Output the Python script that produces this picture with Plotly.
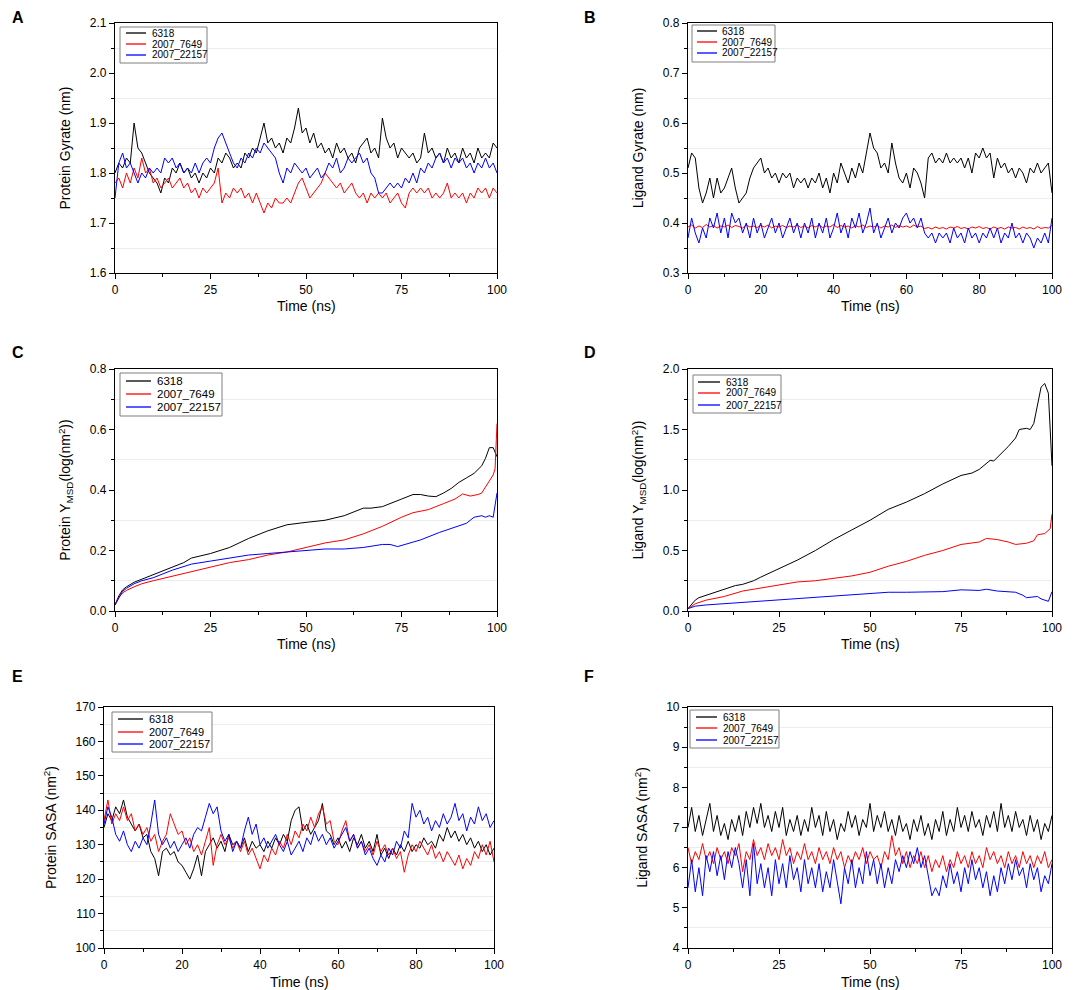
import plotly.graph_objects as go

# time axis for the noisy traces (ns, one value per ns)
t = list(range(101))

names = ["6318", "2007_7649", "2007_22157"]
colors = ["#000000", "#ff0000", "#0000ff"]

# A: protein radius of gyration (nm)
a_6318 = [1.80, 1.82, 1.81, 1.83, 1.82, 1.90, 1.85, 1.84, 1.82, 1.80,
          1.79, 1.78, 1.76, 1.79, 1.78, 1.81, 1.80, 1.82, 1.80, 1.81,
          1.79, 1.80, 1.78, 1.80, 1.79, 1.81, 1.80, 1.83, 1.82, 1.84,
          1.83, 1.81, 1.82, 1.81, 1.84, 1.83, 1.85, 1.84, 1.87, 1.90,
          1.86, 1.87, 1.85, 1.86, 1.84, 1.87, 1.86, 1.89, 1.93, 1.88,
          1.89, 1.86, 1.88, 1.85, 1.86, 1.84, 1.85, 1.83, 1.86, 1.84,
          1.85, 1.83, 1.84, 1.82, 1.85, 1.86, 1.87, 1.84, 1.85, 1.83,
          1.91, 1.87, 1.85, 1.86, 1.83, 1.85, 1.84, 1.83, 1.84, 1.82,
          1.83, 1.88, 1.84, 1.85, 1.83, 1.84, 1.82, 1.85, 1.83, 1.84,
          1.82, 1.85, 1.83, 1.84, 1.82, 1.85, 1.83, 1.84, 1.83, 1.86,
          1.85]
a_7649 = [1.78, 1.79, 1.77, 1.80, 1.78, 1.81, 1.79, 1.83, 1.80, 1.81,
          1.78, 1.79, 1.77, 1.78, 1.79, 1.77, 1.78, 1.79, 1.77, 1.78,
          1.76, 1.77, 1.75, 1.77, 1.76, 1.77, 1.78, 1.81, 1.74, 1.76,
          1.75, 1.77, 1.76, 1.77, 1.75, 1.76, 1.74, 1.76, 1.74, 1.72,
          1.74, 1.73, 1.75, 1.74, 1.74, 1.75, 1.74, 1.76, 1.78, 1.79,
          1.77, 1.75, 1.76, 1.77, 1.78, 1.80, 1.79, 1.78, 1.77, 1.78,
          1.76, 1.77, 1.78, 1.76, 1.75, 1.76, 1.74, 1.76, 1.75, 1.76,
          1.75, 1.76, 1.74, 1.75, 1.76, 1.74, 1.73, 1.76, 1.77, 1.76,
          1.77, 1.76, 1.77, 1.75, 1.76, 1.75, 1.76, 1.78, 1.75, 1.76,
          1.75, 1.76, 1.74, 1.76, 1.75, 1.77, 1.76, 1.77, 1.75, 1.77,
          1.76]
a_22157 = [1.75, 1.82, 1.84, 1.81, 1.82, 1.80, 1.78, 1.80, 1.79, 1.81,
           1.80, 1.81, 1.80, 1.83, 1.82, 1.83, 1.81, 1.82, 1.80, 1.81,
           1.80, 1.82, 1.80, 1.82, 1.83, 1.82, 1.85, 1.87, 1.88, 1.86,
           1.84, 1.82, 1.81, 1.83, 1.82, 1.84, 1.83, 1.85, 1.84, 1.86,
           1.85, 1.84, 1.83, 1.80, 1.78, 1.81, 1.80, 1.82, 1.81, 1.80,
           1.81, 1.79, 1.80, 1.81, 1.79, 1.80, 1.82, 1.81, 1.83, 1.80,
           1.81, 1.83, 1.82, 1.83, 1.84, 1.82, 1.83, 1.80, 1.79, 1.76,
           1.76, 1.77, 1.78, 1.77, 1.78, 1.77, 1.79, 1.78, 1.80, 1.78,
           1.81, 1.80, 1.82, 1.81, 1.83, 1.84, 1.82, 1.83, 1.81, 1.83,
           1.82, 1.83, 1.81, 1.82, 1.80, 1.82, 1.81, 1.83, 1.81, 1.82,
           1.80]

# B: ligand radius of gyration (nm)
b_6318 = [0.51, 0.54, 0.53, 0.47, 0.44, 0.46, 0.49, 0.45, 0.49, 0.46,
          0.47, 0.49, 0.51, 0.47, 0.44, 0.45, 0.46, 0.49, 0.51, 0.52,
          0.53, 0.50, 0.51, 0.49, 0.50, 0.48, 0.50, 0.49, 0.50, 0.47,
          0.49, 0.48, 0.49, 0.47, 0.49, 0.48, 0.50, 0.47, 0.49, 0.46,
          0.50, 0.48, 0.52, 0.50, 0.48, 0.51, 0.49, 0.52, 0.50, 0.54,
          0.58, 0.55, 0.54, 0.51, 0.52, 0.50, 0.56, 0.52, 0.49, 0.48,
          0.50, 0.47, 0.51, 0.50, 0.48, 0.45, 0.53, 0.54, 0.52, 0.53,
          0.52, 0.54, 0.52, 0.53, 0.52, 0.53, 0.51, 0.53, 0.50, 0.54,
          0.53, 0.55, 0.53, 0.54, 0.49, 0.53, 0.51, 0.52, 0.50, 0.51,
          0.49, 0.51, 0.50, 0.48, 0.51, 0.50, 0.52, 0.50, 0.51, 0.52,
          0.46]
b_7649 = [0.392, 0.396, 0.390, 0.394, 0.391, 0.397, 0.392, 0.395, 0.390, 0.394,
          0.392, 0.396, 0.391, 0.395, 0.393, 0.390, 0.396, 0.392, 0.394, 0.391,
          0.395, 0.392, 0.396, 0.390, 0.394, 0.392, 0.395, 0.391, 0.394, 0.392,
          0.396, 0.391, 0.394, 0.390, 0.395, 0.392, 0.396, 0.391, 0.394, 0.392,
          0.397, 0.391, 0.395, 0.392, 0.394, 0.390, 0.395, 0.392, 0.396, 0.391,
          0.394, 0.392, 0.395, 0.390, 0.394, 0.392, 0.396, 0.391, 0.395, 0.392,
          0.394, 0.391, 0.396, 0.392, 0.394, 0.389, 0.391, 0.388, 0.392, 0.389,
          0.391, 0.388, 0.392, 0.390, 0.393, 0.389, 0.391, 0.388, 0.392, 0.390,
          0.393, 0.389, 0.391, 0.388, 0.392, 0.389, 0.391, 0.388, 0.392, 0.390,
          0.391, 0.388, 0.392, 0.389, 0.391, 0.388, 0.393, 0.389, 0.391, 0.390,
          0.395]
b_22157 = [0.37, 0.41, 0.38, 0.36, 0.39, 0.37, 0.41, 0.39, 0.42, 0.38,
           0.41, 0.37, 0.42, 0.40, 0.41, 0.38, 0.40, 0.37, 0.41, 0.38,
           0.40, 0.37, 0.39, 0.41, 0.38, 0.40, 0.37, 0.39, 0.41, 0.38,
           0.40, 0.37, 0.40, 0.38, 0.41, 0.37, 0.40, 0.38, 0.41, 0.37,
           0.39, 0.42, 0.38, 0.40, 0.37, 0.41, 0.39, 0.42, 0.38, 0.40,
           0.43, 0.38, 0.40, 0.37, 0.39, 0.41, 0.38, 0.40, 0.39, 0.41,
           0.42, 0.40, 0.41, 0.39, 0.41, 0.38, 0.37, 0.38, 0.36, 0.38,
           0.37, 0.38, 0.36, 0.39, 0.37, 0.38, 0.36, 0.39, 0.37, 0.38,
           0.36, 0.38, 0.37, 0.39, 0.37, 0.39, 0.36, 0.38, 0.37, 0.40,
           0.37, 0.38, 0.36, 0.38, 0.37, 0.35, 0.37, 0.36, 0.38, 0.36,
           0.41]

# C: protein MSD
c_6318_t = [0, 1, 2, 3, 5, 7, 10, 13, 15, 18, 20, 25, 30, 35, 40, 45, 50, 55, 60, 65,
            67, 70, 75, 78, 80, 82, 84, 86, 88, 90, 92, 94, 96, 97, 98, 99, 100]
c_6318 = [0.02, 0.05, 0.07, 0.08, 0.095, 0.105, 0.12, 0.135, 0.145, 0.16,
          0.175, 0.19, 0.21, 0.24, 0.265, 0.285, 0.293, 0.30, 0.315, 0.34,
          0.34, 0.345, 0.37, 0.385, 0.385, 0.38, 0.378, 0.39, 0.405, 0.425,
          0.44, 0.455, 0.48, 0.505, 0.54, 0.54, 0.51]
c_7649_t = [0, 1, 2, 3, 5, 7, 10, 15, 20, 25, 30, 35, 40, 45, 50, 55, 60, 65, 70, 75,
            78, 82, 86, 89, 91, 93, 95, 96, 97, 98, 99, 99.5, 100]
c_7649 = [0.02, 0.045, 0.06, 0.068, 0.08, 0.09, 0.10, 0.115, 0.13, 0.145,
          0.16, 0.17, 0.185, 0.195, 0.21, 0.225, 0.235, 0.255, 0.28, 0.31,
          0.325, 0.335, 0.355, 0.37, 0.387, 0.38, 0.385, 0.39, 0.41, 0.43,
          0.45, 0.47, 0.62]
c_22157_t = [0, 1, 2, 3, 5, 7, 10, 15, 20, 25, 30, 35, 40, 45, 50, 55, 60, 65, 70, 72,
             74, 76, 80, 85, 90, 92, 94, 96, 97, 98, 99, 100]
c_22157 = [0.02, 0.045, 0.065, 0.075, 0.09, 0.10, 0.11, 0.135, 0.155, 0.165,
           0.175, 0.185, 0.19, 0.195, 0.20, 0.205, 0.205, 0.21, 0.22, 0.22,
           0.213, 0.22, 0.235, 0.26, 0.28, 0.29, 0.31, 0.315, 0.31, 0.315,
           0.31, 0.39]

# D: ligand MSD
d_6318_t = [0, 1, 2, 3, 5, 7, 10, 13, 15, 18, 20, 25, 30, 35, 40, 45, 50, 55, 60, 65,
            70, 75, 78, 80, 82, 83, 84, 86, 88, 90, 91, 93, 94, 95, 96, 97, 98, 99, 100]
d_6318 = [0.02, 0.06, 0.09, 0.11, 0.13, 0.155, 0.18, 0.21, 0.22, 0.25,
          0.28, 0.35, 0.42, 0.50, 0.59, 0.67, 0.75, 0.84, 0.90, 0.97,
          1.05, 1.12, 1.14, 1.17, 1.22, 1.245, 1.24, 1.30, 1.36, 1.43,
          1.50, 1.51, 1.50, 1.55, 1.70, 1.85, 1.88, 1.80, 1.20]
d_7649_t = [0, 2, 5, 10, 15, 20, 25, 30, 35, 40, 45, 50, 55, 60, 65, 70, 75, 80, 82, 85,
            88, 90, 93, 95, 96, 98, 99.5, 100]
d_7649 = [0.02, 0.06, 0.09, 0.12, 0.165, 0.19, 0.21, 0.24, 0.25, 0.27,
          0.29, 0.32, 0.37, 0.41, 0.46, 0.50, 0.55, 0.57, 0.60, 0.59,
          0.57, 0.55, 0.56, 0.58, 0.63, 0.64, 0.68, 0.80]
d_22157_t = [0, 2, 5, 10, 20, 25, 30, 40, 50, 55, 60, 70, 75, 80, 82, 85, 90, 92, 93, 95,
             96, 97, 98, 99, 100]
d_22157 = [0.02, 0.04, 0.05, 0.06, 0.08, 0.09, 0.10, 0.12, 0.14, 0.155,
           0.155, 0.16, 0.175, 0.17, 0.18, 0.165, 0.155, 0.13, 0.11, 0.12,
           0.12, 0.10, 0.09, 0.08, 0.16]

# E: protein SASA (nm^2)
e_6318 = [135, 139, 137, 141, 139, 143, 138, 136, 134, 136,
          132, 133, 128, 126, 121, 128, 129, 127, 128, 125,
          124, 122, 120, 123, 127, 121, 128, 130, 132, 129,
          131, 128, 133, 130, 131, 129, 132, 128, 131, 129,
          130, 128, 131, 129, 132, 130, 133, 131, 137, 140,
          141, 134, 136, 133, 135, 137, 142, 134, 133, 130,
          132, 129, 131, 128, 132, 130, 133, 129, 131, 128,
          133, 127, 129, 126, 129, 127, 130, 128, 131, 128,
          130, 129, 132, 130, 131, 129, 133, 131, 135, 132,
          134, 131, 133, 130, 132, 129, 131, 128, 130, 127,
          129]
e_7649 = [137, 143, 136, 139, 137, 141, 137, 139, 134, 136,
          133, 135, 131, 133, 128, 131, 133, 139, 136, 133,
          134, 130, 132, 128, 130, 127, 131, 135, 124, 130,
          133, 130, 132, 129, 131, 128, 131, 127, 129, 126,
          123, 127, 125, 129, 127, 131, 129, 133, 130, 134,
          132, 136, 134, 138, 135, 139, 141, 136, 137, 131,
          130, 134, 137, 131, 133, 129, 131, 128, 130, 127,
          131, 128, 130, 127, 129, 126, 128, 122, 127, 130,
          128, 131, 129, 127, 130, 126, 128, 125, 128, 126,
          124, 127, 123, 126, 124, 128, 126, 130, 127, 131,
          125]
e_22157 = [136, 141, 138, 133, 131, 134, 130, 128, 131, 129,
           132, 130, 136, 143, 133, 130, 132, 129, 131, 128,
           130, 132, 129, 133, 135, 134, 138, 142, 139, 141,
           134, 131, 133, 128, 131, 129, 134, 138, 133, 136,
           130, 132, 129, 131, 133, 130, 128, 131, 127, 129,
           131, 128, 132, 130, 134, 131, 133, 130, 132, 129,
           131, 133, 135, 131, 133, 129, 131, 127, 129, 126,
           124, 127, 125, 129, 127, 131, 129, 134, 132, 142,
           138, 140, 136, 138, 134, 137, 135, 139, 136, 138,
           142, 137, 139, 134, 138, 136, 141, 137, 139, 135,
           137]

# F: ligand SASA (nm^2)
f_6318 = [7.0, 7.5, 6.9, 7.3, 6.8, 7.2, 7.6, 6.9, 7.3, 6.8,
          7.1, 6.7, 7.2, 6.9, 7.3, 6.8, 7.4, 7.0, 7.5, 7.1,
          7.6, 7.0, 7.3, 6.9, 7.4, 7.0, 7.5, 6.8, 7.2, 6.9,
          7.3, 6.8, 7.2, 6.9, 7.5, 7.0, 7.3, 6.8, 7.4, 6.9,
          7.2, 6.7, 7.1, 6.9, 7.4, 7.0, 7.3, 6.8, 7.2, 7.0,
          7.6, 6.9, 7.3, 7.0, 7.4, 6.9, 7.2, 6.8, 7.3, 6.9,
          7.1, 6.7, 7.2, 6.9, 7.3, 6.8, 7.1, 6.7, 7.2, 6.9,
          7.4, 6.8, 7.2, 6.9, 7.5, 7.0, 7.3, 6.9, 7.4, 7.0,
          7.2, 6.8, 7.3, 7.0, 7.4, 6.9, 7.6, 7.0, 7.3, 6.9,
          7.4, 7.0, 7.2, 6.8, 7.3, 6.9, 7.2, 6.7, 7.1, 6.9,
          7.3]
f_7649 = [6.5, 6.1, 6.4, 6.2, 6.6, 6.2, 6.4, 6.1, 6.5, 6.2,
          6.4, 6.1, 6.5, 6.3, 6.6, 5.9, 6.4, 6.2, 6.7, 6.3,
          6.5, 6.2, 6.6, 6.3, 6.5, 6.2, 6.7, 6.3, 6.5, 6.1,
          6.4, 6.2, 6.6, 6.2, 6.4, 6.1, 6.5, 6.2, 6.4, 6.1,
          6.5, 6.2, 6.4, 6.0, 6.3, 6.1, 6.4, 6.2, 6.5, 6.1,
          6.4, 6.2, 6.3, 6.0, 6.4, 6.2, 6.8, 6.3, 6.5, 6.1,
          6.4, 6.0, 6.3, 6.1, 6.4, 6.0, 6.3, 5.9, 6.2, 6.0,
          6.3, 5.9, 6.2, 6.0, 6.4, 6.1, 6.3, 6.0, 6.4, 6.1,
          6.3, 6.0, 6.5, 6.2, 6.4, 6.1, 6.3, 6.0, 6.4, 6.1,
          6.3, 6.0, 6.4, 6.1, 6.3, 6.0, 6.3, 6.1, 6.4, 6.0,
          6.2]
f_22157 = [5.5, 6.2, 5.4, 6.0, 5.3, 6.3, 5.9, 6.4, 5.8, 6.3,
           5.7, 6.4, 6.0, 6.5, 6.1, 5.5, 6.2, 5.3, 6.6, 5.6,
           6.1, 5.5, 6.0, 5.3, 6.2, 5.6, 6.1, 5.5, 6.3, 5.7,
           6.0, 5.4, 6.2, 5.6, 6.0, 5.5, 6.1, 5.4, 5.9, 5.5,
           6.2, 5.6, 5.1, 6.0, 5.6, 6.2, 5.5, 6.0, 5.6, 6.4,
           5.8, 6.2, 5.6, 6.1, 5.5, 6.0, 5.6, 6.2, 5.9, 6.3,
           6.0, 6.4, 6.1, 6.5, 6.0, 6.3, 5.8, 5.3, 5.5, 5.3,
           5.8, 5.5, 6.1, 5.6, 5.9, 5.4, 6.0, 5.6, 6.2, 5.7,
           6.0, 5.5, 5.9, 5.3, 5.8, 5.4, 6.0, 5.6, 6.1, 5.7,
           6.2, 5.8, 6.0, 5.5, 6.1, 5.7, 6.0, 5.4, 5.8, 5.6,
           6.1]

panels = [
    # letter, series [(x, y)], y range, y dtick, x dtick, y title, tick format
    ("A", [(t, a_6318), (t, a_7649), (t, a_22157)], [1.6, 2.1], 0.1, 25,
     "Protein Gyrate (nm)", ".1f"),
    ("B", [(t, b_6318), (t, b_7649), (t, b_22157)], [0.3, 0.8], 0.1, 20,
     "Ligand Gyrate (nm)", ".1f"),
    ("C", [(c_6318_t, c_6318), (c_7649_t, c_7649), (c_22157_t, c_22157)], [0, 0.8], 0.2, 25,
     "Protein Y<sub>MSD</sub>(log(nm<sup>2</sup>))", ".1f"),
    ("D", [(d_6318_t, d_6318), (d_7649_t, d_7649), (d_22157_t, d_22157)], [0, 2.0], 0.5, 25,
     "Ligand Y<sub>MSD</sub>(log(nm<sup>2</sup>))", ".1f"),
    ("E", [(t, e_6318), (t, e_7649), (t, e_22157)], [100, 170], 10, 20,
     "Protein SASA (nm<sup>2</sup>)", "d"),
    ("F", [(t, f_6318), (t, f_7649), (t, f_22157)], [4, 10], 1, 25,
     "Ligand SASA (nm<sup>2</sup>)", "d"),
]

W, H = 1084, 990
OX, OY = 8, 8  # page margin around the plot div


def px(x):
    return (x - OX) / W


def py(y):
    return 1 - (y - OY) / H


# plot boxes in pixels: left, right, top, bottom
boxes = [(115, 497, 23, 273), (688, 1052, 23, 273),
         (115, 497, 369, 611), (688, 1052, 369, 611),
         (104, 494, 707, 948), (688, 1052, 707, 948)]
# x title centre heights
xtitle_y = [306, 306, 644, 644, 982, 982]
# legend boxes: (x0, x1, y0, y1), sample line x0/x1, text x, row ys, font size
legends = [
    ((120, 207, 27, 63), (126, 146), 150, (33, 44, 55), 10),
    ((692, 775, 25, 62), (697, 717), 720, (31, 42, 53), 10),
    ((120, 222, 373, 416), (126, 151), 155, (381, 394, 407), 11.5),
    ((693, 781, 375, 413), (698, 720), 724, (382, 393, 405), 10),
    ((112, 212, 712, 752), (118, 143), 147, (719, 732, 744), 11),
    ((690, 779, 710, 748), (696, 717), 721, (717, 728, 740), 10),
]
letter_pos = [(10, 18), (582, 18), (10, 352), (582, 352), (10, 676), (582, 676)]

font = "Arial, Liberation Sans, sans-serif"
fig = go.Figure()
layout = {}
annotations = []
shapes = []

for i, (letter, series, yr, ydt, xdt, ytitle, fmt) in enumerate(panels):
    n = "" if i == 0 else str(i + 1)
    for (xs, ys), name, col in zip(series, names, colors):
        fig.add_trace(go.Scatter(
            x=xs, y=ys, mode="lines", name=name,
            line=dict(color=col, width=1),
            xaxis="x" + n, yaxis="y" + n, showlegend=False,
        ))
    l, r, tp, bt = boxes[i]
    layout["xaxis" + n] = dict(
        domain=[px(l), px(r)], anchor="y" + n, range=[0, 100], dtick=xdt,
        showline=True, linecolor="black", linewidth=1.2, mirror=True,
        ticks="outside", ticklen=5, tickcolor="black", showgrid=False, zeroline=False,
        minor=dict(ticks="outside", ticklen=3, dtick=xdt / 2, tickcolor="black"),
        tickfont=dict(size=12, color="black"), automargin=False,
    )
    layout["yaxis" + n] = dict(
        domain=[py(bt), py(tp)], anchor="x" + n, range=yr, dtick=ydt,
        tickformat=fmt,
        showline=True, linecolor="black", linewidth=1.2, mirror=True,
        ticks="outside", ticklen=5, tickcolor="black", showgrid=False, zeroline=False,
        minor=dict(ticks="outside", ticklen=3, dtick=ydt / 2, tickcolor="black",
                   showgrid=True, gridcolor="#ececec", gridwidth=1),
        tickfont=dict(size=12, color="black"), automargin=False,
        title=dict(text=ytitle, font=dict(size=14, color="black")),
    )
    # x axis title, placed under the ticks
    annotations.append(dict(text="Time (ns)", x=px((l + r) / 2), y=py(xtitle_y[i]),
                            xref="paper", yref="paper", xanchor="center", yanchor="middle",
                            showarrow=False, font=dict(size=14, color="black")))

    # legend box drawn in figure space
    (bx0, bx1, by0, by1), (lx0, lx1), tx, rows, fs = legends[i]
    shapes.append(dict(type="rect", xref="paper", yref="paper",
                       x0=px(bx0), x1=px(bx1), y0=py(by1), y1=py(by0),
                       line=dict(color="#7f7f7f", width=1), fillcolor="white"))
    for ry, name, col in zip(rows, names, colors):
        shapes.append(dict(type="line", xref="paper", yref="paper",
                           x0=px(lx0), x1=px(lx1), y0=py(ry), y1=py(ry),
                           line=dict(color=col, width=1.3)))
        annotations.append(dict(text=name, x=px(tx), y=py(ry), xref="paper", yref="paper",
                                xanchor="left", yanchor="middle", showarrow=False,
                                font=dict(size=fs, color="black")))

    lx, ly = letter_pos[i]
    annotations.append(dict(
        text="<b>" + letter + "</b>", x=px(lx), y=py(ly),
        xref="paper", yref="paper", xanchor="left", yanchor="middle",
        showarrow=False, font=dict(size=16, color="black"),
    ))

fig.update_layout(
    width=W, height=H,
    margin=dict(l=0, r=0, t=0, b=0),
    paper_bgcolor="white", plot_bgcolor="white",
    font=dict(family=font, color="black"),
    annotations=annotations, shapes=shapes,
    **layout
)

fig.write_html("out.html")
